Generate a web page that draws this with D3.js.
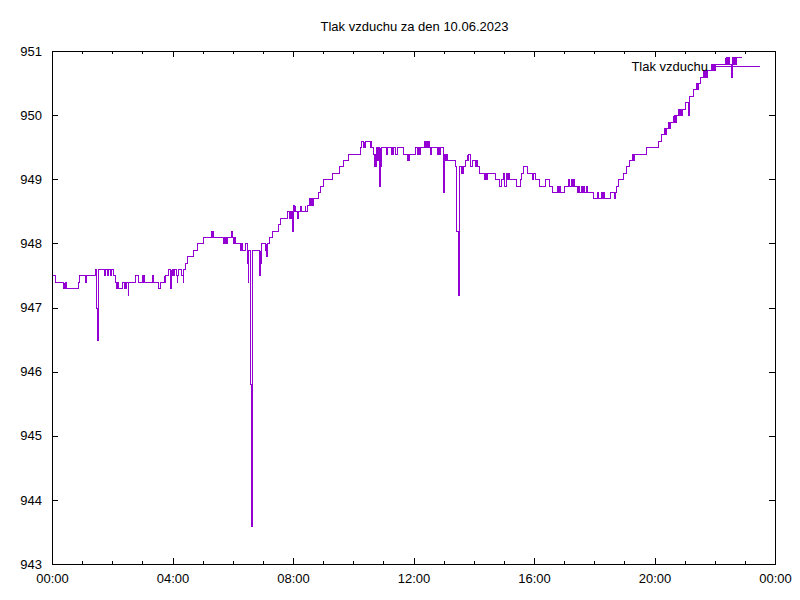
<!DOCTYPE html>
<html>
<head>
<meta charset="utf-8">
<script src="https://cdn.jsdelivr.net/npm/d3@7"></script>
<style>
  html, body { margin: 0; padding: 0; background: #fff; }
  svg { display: block; }
  text { font-family: "Liberation Sans", Arial, sans-serif; font-size: 13px; fill: #000; }
</style>
</head>
<body>
<svg id="chart" width="800" height="600"></svg>
<script>
// ---- data ----
const chartTitle = "Tlak vzduchu za den 10.06.2023";
const seriesName = "Tlak vzduchu";
const xTickMinutes = [0, 240, 480, 720, 960, 1200, 1440];
const xTickLabels = ["00:00", "04:00", "08:00", "12:00", "16:00", "20:00", "00:00"];
const xMinorMinutes = [60, 120, 180, 300, 360, 420, 540, 600, 660, 780, 840, 900, 1020, 1080, 1140, 1260, 1320, 1380];
const yTicks = [943, 944, 945, 946, 947, 948, 949, 950, 951];

// minutes since midnight (change points)
const minutes = [
  0,6,21,23,24,25,28,51,54,66,
  68,86,88,90,91,104,106,110,111,116,
  117,122,125,128,129,131,139,144,145,147,
  148,151,152,165,172,180,181,182,183,199,
  201,211,215,223,224,226,232,236,237,238,
  239,240,243,247,248,249,251,256,260,261,
  265,269,280,289,300,316,318,319,320,340,
  341,343,344,346,348,356,358,361,362,364,
  375,376,378,384,388,389,390,391,395,397,
  398,413,414,415,417,425,426,427,428,432,
  438,451,455,469,473,474,476,477,479,480,
  482,483,484,487,489,493,494,495,496,503,
  504,507,512,514,516,517,519,529,533,540,
  557,572,579,589,613,616,620,621,622,624,
  633,634,635,640,641,642,644,645,646,647,
  649,652,653,654,656,665,668,675,676,677,
  679,684,687,700,707,708,709,711,723,727,
  729,731,733,741,743,745,747,749,751,753,
  755,767,769,770,772,779,780,782,784,786,
  803,805,808,810,815,816,818,819,823,826,
  827,829,832,836,843,845,847,851,861,863,
  864,866,882,891,895,898,901,904,907,908,
  911,925,932,935,939,946,957,959,962,969,
  981,989,995,1005,1007,1009,1011,1019,1028,1030,
  1033,1035,1038,1040,1045,1048,1050,1053,1055,1058,
  1060,1064,1066,1077,1085,1087,1094,1096,1098,1100,
  1111,1120,1121,1123,1128,1138,1143,1150,1156,1157,
  1159,1184,1207,1213,1219,1220,1222,1227,1228,1230,
  1236,1237,1239,1240,1242,1247,1248,1250,1252,1254,
  1260,1267,1268,1269,1276,1283,1284,1286,1291,1297,
  1298,1300,1302,1304,1313,1314,1316,1318,1320,1340,
  1341,1343,1345,1347,1349,1353,1354,1356,1358,1360,
  1362,1372
];
// air pressure (hPa)
const pressure = [
  947.5,947.4,947.3,947.4,947.3,947.4,947.3,947.4,947.5,947.4,
  947.5,947.6,947.0,946.5,947.6,947.5,947.6,947.5,947.6,947.5,
  947.6,947.5,947.4,947.3,947.4,947.3,947.4,947.3,947.4,947.3,
  947.4,947.2,947.4,947.5,947.4,947.5,947.4,947.5,947.4,947.5,
  947.4,947.3,947.4,947.5,947.4,947.5,947.6,947.3,947.6,947.5,
  947.6,947.5,947.6,947.5,947.4,947.5,947.6,947.5,947.4,947.6,
  947.7,947.8,947.9,948.0,948.1,948.2,948.1,948.2,948.1,948.0,
  948.1,948.0,948.1,948.0,948.1,948.2,948.1,948.0,948.1,948.0,
  947.9,948.0,947.9,948.0,947.7,947.9,947.4,947.9,945.8,943.6,
  947.9,947.5,947.9,947.7,948.0,947.9,948.0,947.8,948.0,948.1,
  948.2,948.3,948.4,948.5,948.4,948.5,948.4,948.5,948.2,948.6,
  948.5,948.6,948.5,948.4,948.5,948.6,948.5,948.6,948.5,948.6,
  948.5,948.6,948.7,948.6,948.7,948.6,948.7,948.8,948.9,949.0,
  949.1,949.2,949.3,949.4,949.5,949.6,949.5,949.6,949.5,949.6,
  949.5,949.6,949.5,949.4,949.3,949.2,949.4,949.2,949.5,949.3,
  949.5,948.9,949.5,949.2,949.5,949.4,949.5,949.4,949.5,949.4,
  949.5,949.4,949.5,949.4,949.3,949.4,949.3,949.4,949.5,949.4,
  949.5,949.4,949.5,949.6,949.5,949.6,949.5,949.6,949.5,949.4,
  949.5,949.4,949.5,949.4,949.5,948.8,949.4,949.3,949.4,949.3,
  949.2,948.2,947.2,949.2,949.1,949.2,949.1,949.2,949.3,949.4,
  949.3,949.4,949.2,949.3,949.2,949.3,949.2,949.1,949.0,949.1,
  949.0,949.1,949.0,948.9,949.0,949.1,948.9,949.1,949.0,949.1,
  949.0,948.9,949.0,949.1,949.2,949.1,949.0,949.1,949.0,948.9,
  949.0,948.9,948.8,948.9,948.8,948.9,948.8,948.9,949.0,948.9,
  949.0,948.9,949.0,948.9,948.8,948.9,948.8,948.9,948.8,948.9,
  948.8,948.9,948.8,948.7,948.8,948.7,948.8,948.7,948.8,948.7,
  948.8,948.7,948.8,948.9,949.0,949.1,949.2,949.3,949.4,949.3,
  949.4,949.5,949.6,949.7,949.8,949.7,949.8,949.9,949.8,949.9,
  950.0,949.9,950.0,949.9,950.0,950.1,950.0,950.1,950.0,950.1,
  950.2,950.0,950.2,950.3,950.4,950.5,950.4,950.5,950.6,950.7,
  950.6,950.7,950.6,950.7,950.8,950.7,950.8,950.7,950.8,950.9,
  950.8,950.9,950.8,950.9,950.8,950.6,950.9,950.8,950.9,950.8,
  950.9,950.9
];

// ---- layout ----
const W = 800, H = 600;
const plot = { left: 52, right: 775, top: 51, bottom: 564 };
const lineColor = "#9400D3";

const svg = d3.select("#chart");
svg.append("rect").attr("width", W).attr("height", H).attr("fill", "#fff");

const x = d3.scaleLinear().domain([0, 1440]).range([plot.left, plot.right]);
const y = d3.scaleLinear().domain([943, 951]).range([plot.bottom, plot.top]);
const px = v => Math.round(v) + 0.5;

// title
svg.append("text")
  .attr("x", (plot.left + plot.right) / 2 + 1)
  .attr("y", 31)
  .attr("text-anchor", "middle")
  .text(chartTitle);

// axes (ticks inward, mirrored)
const major = 6, minor = 3;
const labelOf = d => xTickLabels[xTickMinutes.indexOf(d)];

function styleAxis(g) {
  g.selectAll(".domain").remove();
  g.selectAll("line").attr("stroke", "#000").attr("shape-rendering", "crispEdges");
  g.selectAll("text").style("font-family", "Liberation Sans, Arial, sans-serif").style("font-size", "13px").attr("fill", "#000");
}

svg.append("g").attr("transform", `translate(0,${plot.bottom})`)
  .call(d3.axisBottom(x).tickValues(xTickMinutes).tickFormat(labelOf).tickSize(-major).tickPadding(10))
  .call(styleAxis);
svg.append("g").attr("transform", `translate(0,${plot.bottom})`)
  .call(d3.axisBottom(x).tickValues(xMinorMinutes).tickFormat("").tickSize(-minor))
  .call(styleAxis);
svg.append("g").attr("transform", `translate(0,${plot.top})`)
  .call(d3.axisTop(x).tickValues(xTickMinutes).tickFormat("").tickSize(-major))
  .call(styleAxis);
svg.append("g").attr("transform", `translate(0,${plot.top})`)
  .call(d3.axisTop(x).tickValues(xMinorMinutes).tickFormat("").tickSize(-minor))
  .call(styleAxis);

svg.append("g").attr("transform", `translate(${plot.left},0)`)
  .call(d3.axisLeft(y).tickValues(yTicks).tickFormat(d3.format("d")).tickSize(-major).tickPadding(10))
  .call(styleAxis);
svg.append("g").attr("transform", `translate(${plot.right},0)`)
  .call(d3.axisRight(y).tickValues(yTicks).tickFormat("").tickSize(-major))
  .call(styleAxis);

// border
svg.append("rect")
  .attr("x", plot.left + 0.5).attr("y", plot.top + 0.5)
  .attr("width", plot.right - plot.left).attr("height", plot.bottom - plot.top)
  .attr("fill", "none").attr("stroke", "#000").attr("stroke-width", 1)
  .attr("shape-rendering", "crispEdges");

// series
const data = minutes.map((m, i) => ({ m, v: pressure[i] }));
const line = d3.line().x(d => px(x(d.m))).y(d => px(y(d.v))).curve(d3.curveStepAfter);
svg.append("path")
  .datum(data)
  .attr("d", line)
  .attr("fill", "none")
  .attr("stroke", lineColor)
  .attr("stroke-width", 1)
  .attr("shape-rendering", "crispEdges");

// key
const keyY = 66;
svg.append("text")
  .attr("x", 708).attr("y", keyY + 5)
  .attr("text-anchor", "end")
  .text(seriesName);
svg.append("line")
  .attr("x1", 712).attr("x2", 760)
  .attr("y1", keyY + 0.5).attr("y2", keyY + 0.5)
  .attr("stroke", lineColor).attr("stroke-width", 1)
  .attr("shape-rendering", "crispEdges");
</script>
</body>
</html>
